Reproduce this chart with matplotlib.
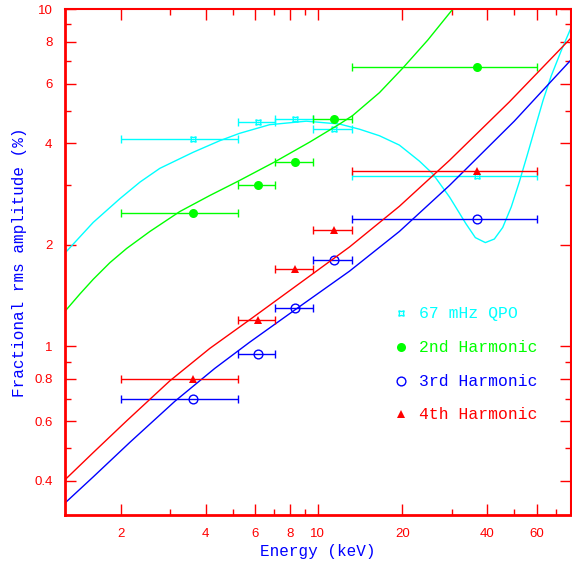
import numpy as np
import matplotlib
matplotlib.use('Agg')
import matplotlib.pyplot as plt
from matplotlib.ticker import FixedLocator, NullFormatter

# energy bins (keV): centres and bin edges
energy = [3.6, 6.12, 8.33, 11.4, 36.7]
e_lo = [2.0, 5.2, 7.03, 9.6, 13.2]
e_hi = [5.2, 7.03, 9.6, 13.2, 60.0]

# fractional rms amplitudes (%)
qpo = [4.11, 4.61, 4.72, 4.40, 3.19]
harm2 = [2.49, 3.00, 3.51, 4.71, 6.71]
harm3 = [0.698, 0.947, 1.297, 1.80, 2.39]
harm4 = [0.798, 1.20, 1.70, 2.21, 3.31]

# model curves
qpo_model_x = [1.266, 1.595, 1.984, 2.34, 2.75, 3.61, 4.49, 5.28, 6.75, 9.11, 11.96, 14.1,
               16.57, 19.5, 22.98, 25.6, 29.4, 33.6, 36.3, 39.4, 42.4, 45.4, 48.7, 52.0,
               55.5, 59.3, 63.2, 67.5, 73.2, 79.3]
qpo_model_y = [1.89, 2.33, 2.74, 3.07, 3.37, 3.76, 4.07, 4.28, 4.54, 4.65, 4.56, 4.40,
               4.21, 3.95, 3.54, 3.25, 2.77, 2.31, 2.10, 2.03, 2.08, 2.25, 2.59, 3.07,
               3.69, 4.47, 5.37, 6.33, 7.51, 8.78]
h2_model_x = [1.266, 1.431, 1.595, 1.828, 2.096, 2.535, 3.24, 4.14, 5.23, 7.03, 9.36,
              11.96, 13.3, 16.57, 20.05, 24.6, 30.2]
h2_model_y = [1.27, 1.43, 1.58, 1.77, 1.95, 2.19, 2.51, 2.80, 3.09, 3.52, 4.03,
              4.56, 4.83, 5.65, 6.68, 8.09, 10.0]
h3_model_x = [1.266, 1.595, 2.152, 3.11, 4.31, 5.73, 8.75, 12.97, 19.5, 29.4, 49.9, 79.3]
h3_model_y = [0.343, 0.410, 0.519, 0.687, 0.860, 1.028, 1.323, 1.670, 2.19, 3.00, 4.65, 7.06]
h4_model_x = [1.266, 1.595, 2.096, 2.985, 4.14, 5.73, 9.61, 12.97, 19.5, 29.4, 47.9, 79.3]
h4_model_y = [0.402, 0.484, 0.601, 0.790, 0.986, 1.198, 1.641, 1.97, 2.60, 3.56, 5.30, 8.20]

legend_labels = ['67 mHz QPO', '2nd Harmonic', '3rd Harmonic', '4th Harmonic']

cyan, green, blue, red = '#00ffff', '#00ff00', '#0000ff', '#ff0000'
label_font = 'Liberation Mono'

fig = plt.figure(figsize=(5.72, 5.64), dpi=100)
ax = fig.add_axes([0.1136, 0.086, 0.885, 0.898])
ax.set_xscale('log')
ax.set_yscale('log')

xerr = [np.array(energy) - np.array(e_lo), np.array(e_hi) - np.array(energy)]

series = [
    (qpo, qpo_model_x, qpo_model_y, cyan, dict(marker=(4, 1, 45), ms=5.5, mfc='none', mew=1)),
    (harm2, h2_model_x, h2_model_y, green, dict(marker='o', ms=6.5, mfc=green, mew=0)),
    (harm3, h3_model_x, h3_model_y, blue, dict(marker='o', ms=6.3, mfc='none', mew=1)),
    (harm4, h4_model_x, h4_model_y, red, dict(marker='^', ms=6, mfc=red, mew=0)),
]

for vals, mx, my, col, mk in series:
    ax.plot(mx, my, color=col, lw=1)
    ax.errorbar(energy, vals, xerr=xerr, fmt='none', ecolor=col, elinewidth=1,
                capsize=3, capthick=1)
    ax.plot(energy, vals, ls='none', color=col, mec=col, **mk)

# legend drawn by hand
leg_y = [0.3996, 0.3324, 0.2653, 0.2001]
for (vals, mx, my, col, mk), lab, yy in zip(series, legend_labels, leg_y):
    ax.plot([0.663], [yy], transform=ax.transAxes, ls='none', color=col, mec=col, **mk)
    ax.text(0.700, yy, lab, transform=ax.transAxes, color=col, fontsize=11.8,
            family=label_font, va='center', ha='left')

ax.set_xlim(1.266, 79.5)
ax.set_ylim(0.315, 10)

ax.xaxis.set_major_locator(FixedLocator([2, 4, 6, 8, 10, 20, 40, 60]))
ax.xaxis.set_minor_locator(FixedLocator([3, 5, 7, 9, 30, 50, 70]))
ax.set_xticklabels(['2', '4', '6', '8', '10', '20', '40', '60'])
ax.xaxis.set_minor_formatter(NullFormatter())
ax.yaxis.set_major_locator(FixedLocator([0.4, 0.6, 0.8, 1, 2, 4, 6, 8, 10]))
ax.yaxis.set_minor_locator(FixedLocator([0.5, 0.7, 0.9, 3, 5, 7, 9]))
ax.set_yticklabels(['0.4', '0.6', '0.8', '1', '2', '4', '6', '8', '10'])
ax.yaxis.set_minor_formatter(NullFormatter())

ax.tick_params(which='both', direction='in', top=True, right=True, color=red,
               labelcolor=red, labelsize=9.5, pad=9)
ax.tick_params(which='major', length=8, width=1)
ax.tick_params(which='minor', length=4.5, width=1)
for lbl in ax.get_xticklabels() + ax.get_yticklabels():
    lbl.set_family('Liberation Sans')

for side in ['left', 'bottom']:
    ax.spines[side].set_color(red)
    ax.spines[side].set_linewidth(2)
for side in ['top', 'right']:
    ax.spines[side].set_color(red)
    ax.spines[side].set_linewidth(1.5)

ax.set_xlabel('Energy (keV)', color=blue, fontsize=11.5, family=label_font, labelpad=3)
ax.set_ylabel('Fractional rms amplitude (%)', color=blue, fontsize=11.5,
              family=label_font, labelpad=5)

fig.savefig('out.png', dpi=100)
